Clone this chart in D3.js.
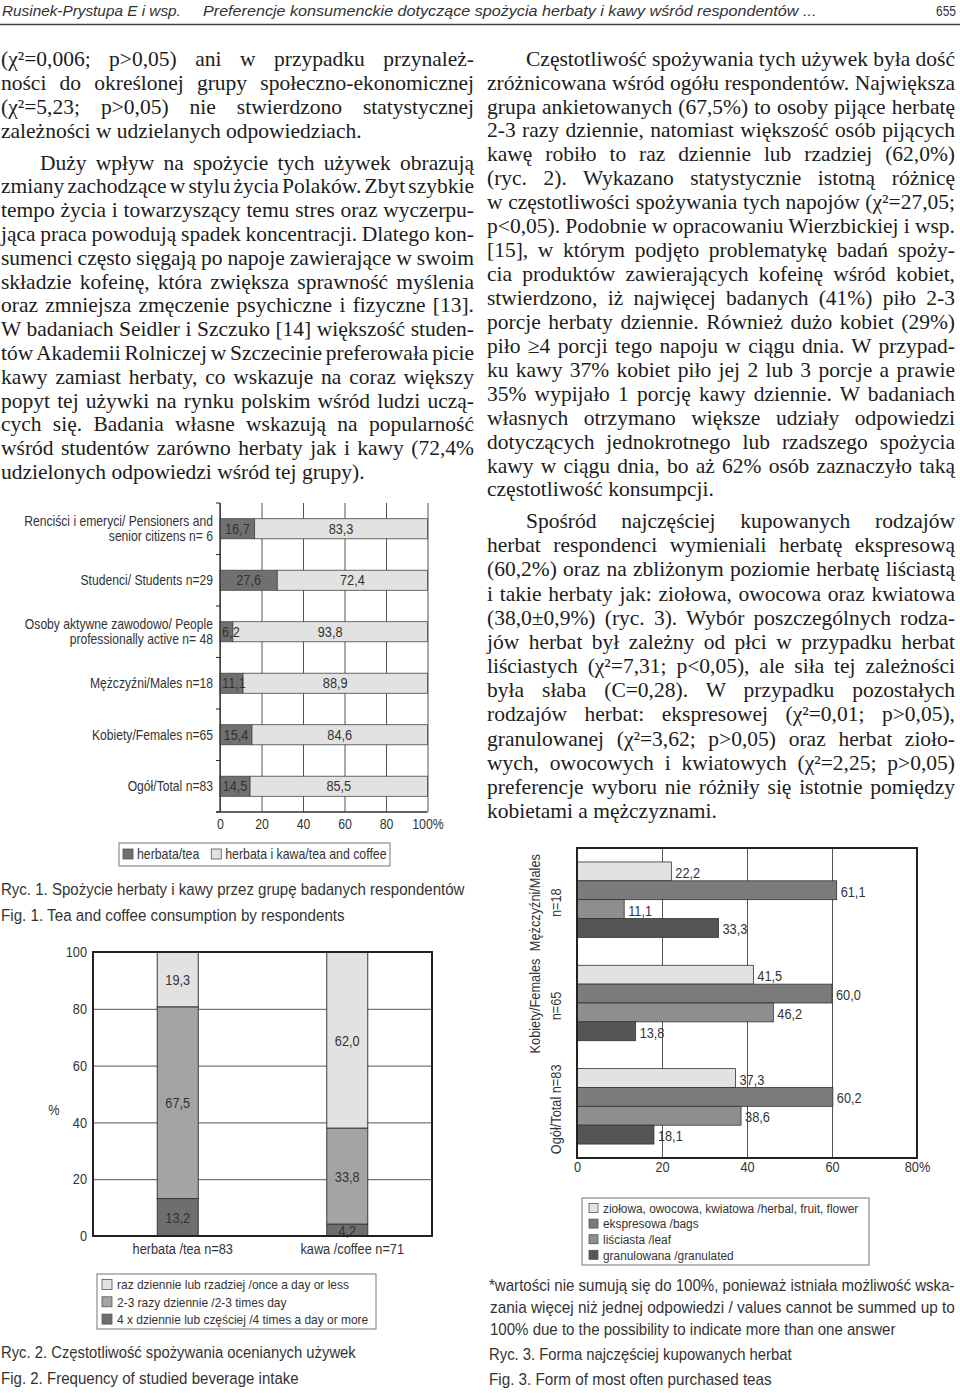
<!DOCTYPE html>
<html><head><meta charset="utf-8">
<script src="https://cdn.jsdelivr.net/npm/d3@7"></script>
<style>html,body{margin:0;padding:0;background:#fff;} svg{display:block;}</style>
</head><body>
<svg id="page" width="960" height="1393"></svg>
<script>
// ---------------- DATA ----------------
const fig1Categories = ["Renciści i emeryci/ Pensioners and\nsenior citizens   n= 6","Studenci/ Students n=29","Osoby aktywne zawodowo/ People\nprofessionally active   n= 48","Mężczyźni/Males n=18","Kobiety/Females n=65","Ogół/Total n=83"];
const fig1Tea = [16.7, 27.6, 6.2, 11.1, 15.4, 14.5];
const fig1TeaCoffee = [83.3, 72.4, 93.8, 88.9, 84.6, 85.5];
const fig1Series = ["herbata/tea", "herbata i kawa/tea and coffee"];
const fig1Ticks = [0, 20, 40, 60, 80, 100];

const fig2Categories = ["herbata /tea n=83", "kawa /coffee n=71"];
const fig2FourPlus = [13.2, 4.2];
const fig2TwoThree = [67.5, 33.8];
const fig2OnceOrLess = [19.3, 62.0];
const fig2Series = ["raz dziennie lub rzadziej /once a day or less", "2-3 razy dziennie /2-3 times day", "4 x dziennie lub częściej /4 times a day or more"];
const fig2Ticks = [0, 20, 40, 60, 80, 100];

const fig3Groups = ["Mężczyźni/Males\nn=18", "Kobiety/Females\nn=65", "Ogół/Total n=83"];
const fig3Herbal = [22.2, 41.5, 37.3];
const fig3Bags = [61.1, 60.0, 60.2];
const fig3Leaf = [11.1, 46.2, 38.6];
const fig3Granulated = [33.3, 13.8, 18.1];
const fig3Series = ["ziołowa, owocowa, kwiatowa /herbal, fruit, flower", "ekspresowa /bags", "liściasta /leaf", "granulowana /granulated"];
const fig3Ticks = [0, 20, 40, 60, 80];

const headerLeft = "Rusinek-Prystupa E i wsp.";
const headerTitle = "Preferencje konsumenckie dotyczące spożycia herbaty i kawy wśród respondentów ...";
const pageNumber = "655";

const leftParagraphs = [
  {indent:false, lines:[
  "(χ²=0,006; p>0,05) ani w przypadku przynależ-",
  "ności do określonej grupy społeczno-ekonomicznej",
  "(χ²=5,23; p>0,05) nie stwierdzono statystycznej",
  "zależności w udzielanych odpowiedziach."]},
  {indent:true, lines:[
  "Duży wpływ na spożycie tych używek obrazują",
  "zmiany zachodzące w stylu życia Polaków. Zbyt szybkie",
  "tempo życia i towarzyszący temu stres oraz wyczerpu-",
  "jąca praca powodują spadek koncentracji. Dlatego kon-",
  "sumenci często sięgają po napoje zawierające w swoim",
  "składzie kofeinę, która zwiększa sprawność myślenia",
  "oraz zmniejsza zmęczenie psychiczne i fizyczne [13].",
  "W badaniach Seidler i Szczuko [14] większość studen-",
  "tów Akademii Rolniczej w Szczecinie preferowała picie",
  "kawy zamiast herbaty, co wskazuje na coraz większy",
  "popyt tej używki na rynku polskim wśród ludzi uczą-",
  "cych się. Badania własne wskazują na popularność",
  "wśród studentów zarówno herbaty jak i kawy (72,4%",
  "udzielonych odpowiedzi wśród tej grupy)."]}
];
const rightParagraphs = [
  {indent:true, lines:[
  "Częstotliwość spożywania tych używek była dość",
  "zróżnicowana wśród ogółu respondentów. Największa",
  "grupa ankietowanych (67,5%) to osoby pijące herbatę",
  "2-3 razy dziennie, natomiast większość osób pijących",
  "kawę robiło to raz dziennie lub rzadziej (62,0%)",
  "(ryc. 2). Wykazano statystycznie istotną różnicę",
  "w częstotliwości spożywania tych napojów (χ²=27,05;",
  "p<0,05). Podobnie w opracowaniu Wierzbickiej i wsp.",
  "[15], w którym podjęto problematykę badań spoży-",
  "cia produktów zawierających kofeinę wśród kobiet,",
  "stwierdzono, iż najwięcej badanych (41%) piło 2-3",
  "porcje herbaty dziennie. Również dużo kobiet (29%)",
  "piło ≥4 porcji tego napoju w ciągu dnia. W przypad-",
  "ku kawy 37% kobiet piło jej 2 lub 3 porcje a prawie",
  "35% wypijało 1 porcję kawy dziennie. W badaniach",
  "własnych otrzymano większe udziały odpowiedzi",
  "dotyczących jednokrotnego lub rzadszego spożycia",
  "kawy w ciągu dnia, bo aż 62% osób zaznaczyło taką",
  "częstotliwość konsumpcji."]},
  {indent:true, lines:[
  "Spośród najczęściej kupowanych rodzajów",
  "herbat respondenci wymieniali herbatę ekspresową",
  "(60,2%) oraz na zbliżonym poziomie herbatę liściastą",
  "i takie herbaty jak: ziołowa, owocowa oraz kwiatowa",
  "(38,0±0,9%) (ryc. 3). Wybór poszczególnych rodza-",
  "jów herbat był zależny od płci w przypadku herbat",
  "liściastych (χ²=7,31; p<0,05), ale siła tej zależności",
  "była słaba (C=0,28). W przypadku pozostałych",
  "rodzajów herbat: ekspresowej (χ²=0,01; p>0,05),",
  "granulowanej (χ²=3,62; p>0,05) oraz herbat zioło-",
  "wych, owocowych i kwiatowych (χ²=2,25; p>0,05)",
  "preferencje wyboru nie różniły się istotnie pomiędzy",
  "kobietami a mężczyznami."]}
];
const fig1Caption = ["Ryc. 1. Spożycie herbaty i kawy przez grupę badanych respondentów", "Fig. 1. Tea and coffee consumption by respondents"];
const fig2Caption = ["Ryc. 2. Częstotliwość spożywania ocenianych używek", "Fig. 2. Frequency of studied beverage intake"];
const fig3Footnote = ["*wartości nie sumują się do 100%, ponieważ istniała możliwość wska-", "zania więcej niż jednej odpowiedzi / values cannot be summed up to", "100% due to the possibility to indicate more than one answer"];
const fig3Caption = ["Ryc. 3. Forma najczęściej kupowanych herbat", "Fig. 3. Form of most often purchased teas"];

// ---------------- STYLE / LAYOUT ----------------
const SANS = "'Liberation Sans', Arial, sans-serif";
const SERIF = "'Liberation Serif', 'DejaVu Serif', serif";
const K = 0.88;           // horizontal condensing of the sans text
const INK = "#333";
const svg = d3.select("#page");
const fmt = d3.formatLocale({decimal:",", thousands:" ", grouping:[3], currency:["",""]}).format(".1f");

function squeeze(sel, k) {
  sel.each(function() {
    const s = d3.select(this);
    const x = +s.attr("x") || 0, y = +s.attr("y") || 0;
    s.attr("transform", `translate(${x},${y}) scale(${k},1) translate(${-x},${-y})`);
  });
}
function txt(parent, str, x, y, o = {}) {
  const t = parent.append("text").attr("x", x).attr("y", y).text(str)
    .attr("font-family", o.family || SANS).attr("font-size", o.size || 13)
    .attr("fill", o.fill || INK).attr("text-anchor", o.anchor || "start");
  if (o.italic) t.attr("font-style", "italic");
  if (o.width) squeeze(t, o.width / t.node().getComputedTextLength());
  else if (o.k) squeeze(t, o.k);
  return t;
}
// multi-line block: one text element, one tspan per line
function block(parent, lines, x, y, lh, o = {}) {
  const t = parent.append("text").attr("x", x).attr("y", y)
    .attr("font-family", SANS).attr("font-size", o.size || 13)
    .attr("fill", INK).attr("text-anchor", o.anchor || "start");
  lines.forEach((ln, i) => t.append("tspan").attr("x", x).attr("y", y + i * lh).text(ln));
  if (o.k) squeeze(t, o.k);
  return t;
}

// ---------------- HEADER ----------------
const hdr = svg.append("g");
txt(hdr, headerLeft, 2, 16, {size:15.5, italic:true, width:179});
txt(hdr, headerTitle, 203, 16, {size:15.5, italic:true, width:614});
txt(hdr, pageNumber, 956, 16, {size:15.5, anchor:"end", width:20});
hdr.append("line").attr("x1", 0).attr("x2", 960).attr("y1", 24.5).attr("y2", 24.5)
  .attr("stroke", "#444").attr("stroke-width", 1.4);

// ---------------- BODY TEXT ----------------
const BODY_SIZE = 21.5;
function column(paragraphs, col, layout) {
  const g = svg.append("g").attr("font-family", SERIF).attr("font-size", BODY_SIZE).attr("fill", "#1c1c1c");
  paragraphs.forEach((p, pi) => {
    const L = layout[pi];
    p.lines.forEach((line, li) => {
      const x = col.x0 + (p.indent && li === 0 ? col.indent : 0);
      const y = L.y + li * L.step;
      const t = g.append("text").attr("x", x).attr("y", y).text(line);
      const last = li === p.lines.length - 1;
      if (!last) {
        const nat = t.node().getComputedTextLength();
        const target = col.x1 - x;
        const spaces = (line.match(/ /g) || []).length;
        if (spaces > 0) t.style("word-spacing", ((target - nat) / spaces) + "px");
      }
    });
  });
}
column(leftParagraphs, {x0:1, x1:474, indent:39}, [{y:65.7, step:24}, {y:169.5, step:23.8}]);
column(rightParagraphs, {x0:487, x1:955, indent:39}, [{y:65.7, step:23.93}, {y:528, step:24.17}]);

// ---------------- FIG 1 ----------------
(function() {
  const box = {x0:220, x1:427.5, y0:503, y1:812};
  const FS = 13.8;
  const g = svg.append("g");
  const x = d3.scaleLinear().domain([0, 100]).range([box.x0, box.x1]);
  const y = d3.scaleBand().domain(fig1Categories).range([box.y0, box.y1]).paddingInner(0.61).paddingOuter(0.305);

  const ax = g.append("g").attr("transform", `translate(0,${box.y1})`)
    .call(d3.axisBottom(x).tickValues(fig1Ticks).tickSize(-(box.y1 - box.y0)).tickPadding(7)
      .tickFormat(d => d === 100 ? d + "%" : d));
  ax.select(".domain").remove();
  ax.selectAll(".tick line").attr("stroke", "#555").attr("stroke-width", 1);
  ax.selectAll(".tick text").attr("font-family", SANS).attr("font-size", 14).attr("fill", INK).call(squeeze, K);

  // bars
  const rows = fig1Categories.map((c, i) => ({c, tea:fig1Tea[i], both:fig1TeaCoffee[i]}));
  g.selectAll("rect.tea").data(rows).join("rect")
    .attr("x", x(0)).attr("y", d => y(d.c)).attr("width", d => x(d.tea) - x(0)).attr("height", y.bandwidth())
    .attr("fill", "#707070").attr("stroke", "#444").attr("stroke-width", 0.8);
  g.selectAll("rect.both").data(rows).join("rect")
    .attr("x", d => x(d.tea)).attr("y", d => y(d.c)).attr("width", d => x(d.tea + d.both) - x(d.tea)).attr("height", y.bandwidth())
    .attr("fill", "#e2e2e2").attr("stroke", "#444").attr("stroke-width", 0.8);

  rows.forEach(d => {
    const mid = y(d.c) + y.bandwidth() / 2;
    const cy = mid + 0.36 * 14.5;
    const t = txt(g, fmt(d.tea), 0, cy, {size:14.5, anchor:"middle"});
    const w = t.node().getComputedTextLength() * K;
    t.attr("x", Math.max((x(0) + x(d.tea)) / 2, x(0) + 2 + w / 2)).call(squeeze, K);
    txt(g, fmt(d.both), (x(d.tea) + x(d.tea + d.both)) / 2, cy, {size:14.5, anchor:"middle", k:K});
    const lines = d.c.split("\n");
    const LH = 15.5;
    block(g, lines, 213, mid - (lines.length - 1) * LH / 2 + 0.36 * FS, LH, {size:FS, anchor:"end", k:K});
  });

  // left axis with ticks at band boundaries
  g.append("line").attr("x1", box.x0).attr("x2", box.x0).attr("y1", box.y0).attr("y2", box.y1).attr("stroke", "#333").attr("stroke-width", 1.3);
  g.append("line").attr("x1", box.x0 - 4).attr("x2", box.x1).attr("y1", box.y1).attr("y2", box.y1).attr("stroke", "#333").attr("stroke-width", 1.3);
  g.selectAll("line.bt").data(d3.range(fig1Categories.length + 1)).join("line")
    .attr("x1", box.x0 - 4).attr("x2", box.x0)
    .attr("y1", i => box.y0 + i * y.step()).attr("y2", i => box.y0 + i * y.step())
    .attr("stroke", "#333").attr("stroke-width", 1.1);

  // legend
  const lg = g.append("g");
  lg.append("rect").attr("x", 119).attr("y", 843).attr("width", 271).attr("height", 23)
    .attr("fill", "#fff").attr("stroke", "#777").attr("stroke-width", 1);
  const cols = ["#707070", "#e2e2e2"];
  let lx = 123;
  fig1Series.forEach((s, i) => {
    lg.append("rect").attr("x", lx).attr("y", 849).attr("width", 10).attr("height", 10)
      .attr("fill", cols[i]).attr("stroke", "#555").attr("stroke-width", 0.8);
    const t = txt(lg, s, lx + 14, 859, {size:14, k:K});
    lx += 14 + t.node().getComputedTextLength() * K + 12;
  });

  txt(g, fig1Caption[0], 1, 895.5, {size:16.5, width:464});
  txt(g, fig1Caption[1], 1, 921.5, {size:16.5, width:344});
})();

// ---------------- FIG 2 ----------------
(function() {
  const box = {x0:93, x1:432, y0:952, y1:1236};
  const g = svg.append("g");
  const x = d3.scalePoint().domain(fig2Categories).range([box.x0, box.x1]).padding(0.5);
  const y = d3.scaleLinear().domain([0, 100]).range([box.y1, box.y0]);
  const ay = g.append("g").attr("transform", `translate(${box.x0},0)`)
    .call(d3.axisLeft(y).tickValues(fig2Ticks).tickSize(-(box.x1 - box.x0)).tickPadding(6));
  ay.select(".domain").remove();
  ay.selectAll(".tick line").attr("stroke", "#555").attr("stroke-width", 1);
  ay.selectAll(".tick text").attr("font-family", SANS).attr("font-size", 14.5).attr("fill", INK).call(squeeze, K);
  txt(g, "%", 54, 1115, {size:14.5, anchor:"middle", k:K});

  const keys = ["four", "two", "once"];
  const colors = {four:"#6e6e6e", two:"#a4a4a4", once:"#e2e2e2"};
  const rows = fig2Categories.map((c, i) => ({c, four:fig2FourPlus[i], two:fig2TwoThree[i], once:fig2OnceOrLess[i]}));
  const stacked = d3.stack().keys(keys)(rows);
  const BW = 41;
  stacked.forEach(layer => {
    g.selectAll(null).data(layer).join("rect")
      .attr("x", d => x(d.data.c) - BW / 2).attr("width", BW)
      .attr("y", d => y(d[1])).attr("height", d => y(d[0]) - y(d[1]))
      .attr("fill", colors[layer.key]).attr("stroke", "#3a3a3a").attr("stroke-width", 1);
    layer.forEach(d => {
      txt(g, fmt(d[1] - d[0]), x(d.data.c), y((d[0] + d[1]) / 2) + 5.5, {size:14.5, anchor:"middle", k:K});
    });
  });
  g.append("rect").attr("x", box.x0).attr("y", box.y0).attr("width", box.x1 - box.x0).attr("height", box.y1 - box.y0)
    .attr("fill", "none").attr("stroke", "#222").attr("stroke-width", 2);
  fig2Categories.forEach(c => txt(g, c, x(c) + 5, 1254, {size:14.5, anchor:"middle", k:K}));

  // legend
  const lg = g.append("g");
  lg.append("rect").attr("x", 97).attr("y", 1274).attr("width", 279).attr("height", 55)
    .attr("fill", "#fff").attr("stroke", "#777").attr("stroke-width", 1);
  const order = ["once", "two", "four"];
  const LH = 17.3;
  fig2Series.forEach((s, i) => {
    const cy = 1284.5 + i * LH;
    lg.append("rect").attr("x", 102).attr("y", cy - 5).attr("width", 10).attr("height", 10)
      .attr("fill", colors[order[i]]).attr("stroke", "#555").attr("stroke-width", 0.8);
  });
  block(lg, fig2Series, 117, 1284.5 + 5, LH, {size:13.6, k:K});
  txt(g, fig2Caption[0], 1, 1358, {size:16.5, width:355});
  txt(g, fig2Caption[1], 1, 1384.5, {size:16.5, width:298});
})();

// ---------------- FIG 3 ----------------
(function() {
  const box = {x0:577, x1:917, y0:848, y1:1158};
  const g = svg.append("g");
  const keys = ["herbal", "bags", "leaf", "gran"];
  const colors = {herbal:"#e2e2e2", bags:"#7b7b7b", leaf:"#8e8e8e", gran:"#555555"};
  const x = d3.scaleLinear().domain([0, 80]).range([box.x0, box.x1]);
  const yg = d3.scaleBand().domain(fig3Groups).range([box.y0, box.y1]).paddingInner(0.27).paddingOuter(0.135);
  const yi = d3.scaleBand().domain(keys).range([0, yg.bandwidth()]).padding(0);

  const ax = g.append("g").attr("transform", `translate(0,${box.y1})`)
    .call(d3.axisBottom(x).tickValues(fig3Ticks).tickSize(-(box.y1 - box.y0)).tickPadding(4)
      .tickFormat(d => d === 80 ? d + "%" : d));
  ax.select(".domain").remove();
  ax.selectAll(".tick line").attr("stroke", "#555").attr("stroke-width", 1);
  ax.selectAll(".tick text").attr("font-family", SANS).attr("font-size", 14.5).attr("fill", INK).call(squeeze, K);

  const rows = fig3Groups.map((gname, i) => ({g:gname, herbal:fig3Herbal[i], bags:fig3Bags[i], leaf:fig3Leaf[i], gran:fig3Granulated[i]}));
  rows.forEach(r => {
    keys.forEach(k => {
      const y0 = yg(r.g) + yi(k);
      g.append("rect").attr("x", x(0)).attr("y", y0).attr("width", x(r[k]) - x(0)).attr("height", yi.bandwidth())
        .attr("fill", colors[k]).attr("stroke", "#333").attr("stroke-width", 0.8);
      txt(g, fmt(r[k]), x(r[k]) + 4, y0 + yi.bandwidth() / 2 + 6.5, {size:14.5, k:K});
    });
    const lines = r.g.split("\n");
    const cy = yg(r.g) + yg.bandwidth() / 2 + 3;
    lines.forEach((ln, li) => {
      const bx = 561 - (lines.length - 1 - li) * 21;
      txt(g, ln, 0, 0, {size:14.5, anchor:"middle"})
        .attr("transform", `translate(${bx},${cy}) rotate(-90) scale(${K},1)`);
    });
  });
  g.append("rect").attr("x", box.x0).attr("y", box.y0).attr("width", box.x1 - box.x0).attr("height", box.y1 - box.y0)
    .attr("fill", "none").attr("stroke", "#222").attr("stroke-width", 2);

  const lg = g.append("g");
  lg.append("rect").attr("x", 582).attr("y", 1198).attr("width", 287).attr("height", 67)
    .attr("fill", "#fff").attr("stroke", "#777").attr("stroke-width", 1);
  const LH = 15.6;
  fig3Series.forEach((s, i) => {
    const cy = 1208 + i * LH;
    lg.append("rect").attr("x", 589).attr("y", cy - 4.5).attr("width", 9).attr("height", 9)
      .attr("fill", colors[keys[i]]).attr("stroke", "#555").attr("stroke-width", 0.8);
  });
  block(lg, fig3Series, 603, 1208 + 4.8, LH, {size:13.5, k:K});

  txt(g, fig3Footnote[0], 489, 1291, {size:16, width:466});
  txt(g, fig3Footnote[1], 490, 1313.5, {size:16, width:465});
  txt(g, fig3Footnote[2], 490, 1335.5, {size:16, width:406});
  txt(g, fig3Caption[0], 489, 1360.5, {size:16, width:303});
  txt(g, fig3Caption[1], 489, 1385.5, {size:16, width:283});
})();
</script>
</body></html>
